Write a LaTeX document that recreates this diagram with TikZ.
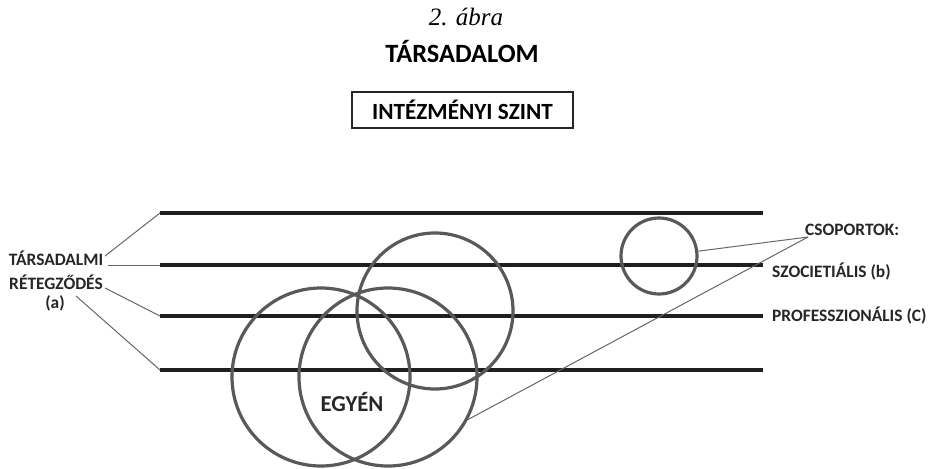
\documentclass[tikz,border=0pt]{standalone}
\usepackage{fontspec}
\setmainfont{Carlito}
\newfontfamily\titlefont{Liberation Serif}
\begin{document}
\begin{tikzpicture}[x=1pt,y=-1pt,
  lbl/.style={font=\fontsize{17.4}{19}\selectfont\bfseries, text=black!85, inner sep=0pt},
  lvl/.style={line width=3.2pt, draw=black!88},
  ring/.style={circle, draw=black!65, line width=3.2pt, inner sep=0pt},
  conn/.style={draw=black!60, line width=1pt}]
\useasboundingbox (0,0) rectangle (930,469);
% titles
\node (fig) at (466,17) {\titlefont\itshape\fontsize{25}{28}\selectfont 2. ábra};
\node (soc) at (462,52) {\fontsize{26.4}{29}\selectfont\bfseries TÁRSADALOM};
\node (inst) [draw=black!85, line width=1.4pt, minimum width=221pt, minimum height=36pt, inner sep=0pt]
  at (462.5,110) {\fontsize{23.2}{26}\selectfont\bfseries INTÉZMÉNYI SZINT};
% levels
\coordinate (a1) at (160,213); \coordinate (b1) at (763,213);
\coordinate (a2) at (160,265); \coordinate (b2) at (763,265);
\coordinate (a3) at (160,316); \coordinate (b3) at (763,316);
\coordinate (a4) at (160,370); \coordinate (b4) at (763,370);
\draw[lvl] (a1) -- (b1);
\draw[lvl] (a2) -- (b2);
\draw[lvl] (a3) -- (b3);
\draw[lvl] (a4) -- (b4);
% left label
\node[lbl] (t1) at (56,258) {TÁRSADALMI};
\node[lbl] (t2) at (56,282) {RÉTEGZŐDÉS};
\node[lbl] (t3) at (55,303) {(a)};
\coordinate (c1) at (105,256);
\coordinate (c2) at (108,265);
\coordinate (c3) at (105,288);
\coordinate (c4) at (76,296);
\draw[conn] (c1) -- (a1);
\draw[conn] (c2) -- (a2);
\draw[conn] (c3) -- (a3);
\draw[conn] (c4) -- (a4);
% circles
\node[ring, minimum size=178pt] (lc) at (321,377) {};
\node[ring, minimum size=178pt] (mc) at (388,377) {};
\node[ring, minimum size=156pt] (uc) at (435,311) {};
\node[ring, minimum size=76pt] (sc) at (659,256) {};
\node[font=\fontsize{22.8}{25}\selectfont\bfseries, text=black!85] (egyen) at (352,402) {EGYÉN};
% right labels
\node[lbl, anchor=west] (grp) at (805,230) {CSOPORTOK:};
\node[lbl, anchor=west] (szoc) at (772,272) {SZOCIETIÁLIS (b)};
\node[lbl, anchor=west] (prof) at (772,316) {PROFESSZIONÁLIS (C)};
\coordinate (g) at (808,237);
\draw[conn] (g) -- (sc.7);
\draw[conn] (g) -- (mc.-28);
\end{tikzpicture}
\end{document}
